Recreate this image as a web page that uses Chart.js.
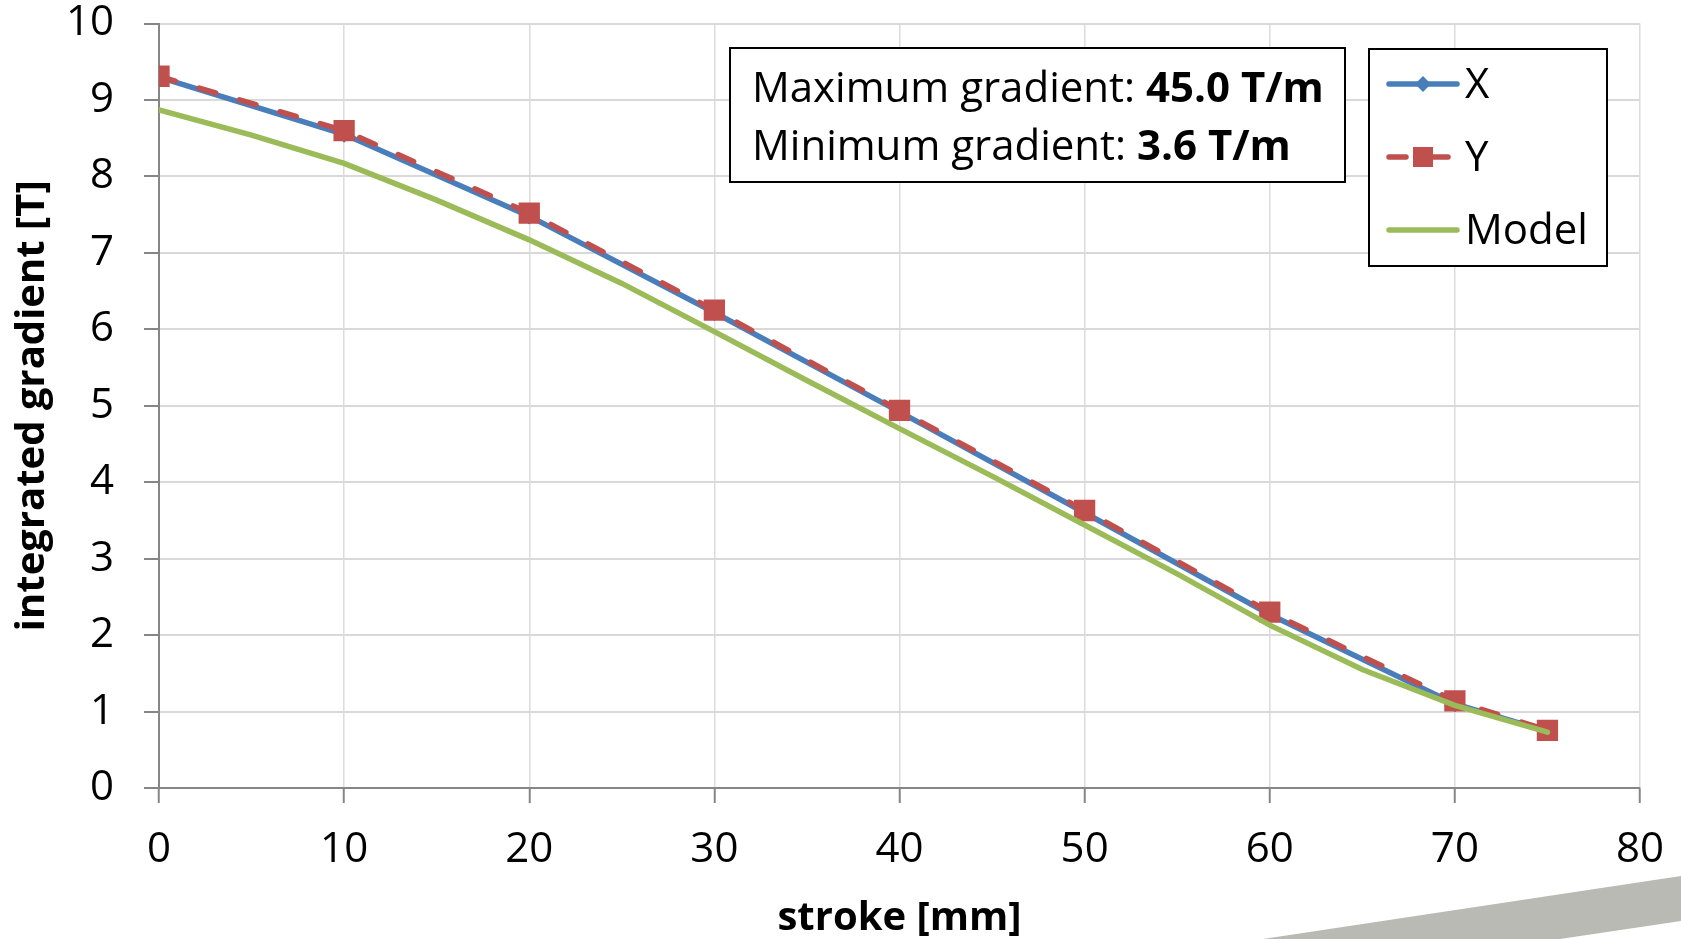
<!DOCTYPE html>
<html>
<head>
<meta charset="utf-8">
<script src="https://cdn.jsdelivr.net/npm/chart.js@4.4.1/dist/chart.umd.min.js"></script>
<style>
  html, body { margin: 0; padding: 0; background: #fff; }
  #wrap { position: relative; width: 1681px; height: 939px; }
</style>
</head>
<body>
<div id="wrap"><canvas id="chart" width="1681" height="939"></canvas></div>
<script>
// measured points, stroke in mm
const strokeMm = [0, 10, 20, 30, 40, 50, 60, 70, 75];
const gradX = [9.30, 8.55, 7.48, 6.22, 4.92, 3.60, 2.27, 1.10, 0.74];
const gradY = [9.31, 8.60, 7.52, 6.25, 4.94, 3.63, 2.30, 1.14, 0.755];

// model curve, every 5 mm
const modelStroke = [0, 5, 10, 15, 20, 25, 30, 35, 40, 45, 50, 55, 60, 65, 70, 75];
const gradModel = [8.87, 8.54, 8.17, 7.69, 7.17, 6.60, 5.97, 5.33, 4.70, 4.08, 3.44, 2.80, 2.13, 1.55, 1.08, 0.73];

const xTickValues = [0, 10, 20, 30, 40, 50, 60, 70, 80];
const yTickValues = [0, 1, 2, 3, 4, 5, 6, 7, 8, 9, 10];

const noteLines = [
  ["Maximum gradient: ", "45.0 T/m"],
  ["Minimum gradient: ", "3.6 T/m"]
];

const FONT = "'Open Sans', sans-serif";
Chart.defaults.font.family = FONT;
Chart.defaults.color = "#000";

const toPoints = (xs, ys) => xs.map((x, i) => ({ x: x, y: ys[i] }));

// text box, legend box and the grey swoosh of the slide
const extrasPlugin = {
  id: "extras",
  afterDraw(chart) {
    const ctx = chart.ctx;
    ctx.save();

    // note box
    ctx.fillStyle = "#fff";
    ctx.strokeStyle = "#000";
    ctx.lineWidth = 2;
    ctx.fillRect(730, 48, 615, 134);
    ctx.strokeRect(730, 48, 615, 134);
    ctx.fillStyle = "#000";
    ctx.textBaseline = "alphabetic";
    const baselines = [102, 160];
    noteLines.forEach((parts, i) => {
      ctx.font = "42px " + FONT;
      ctx.fillText(parts[0], 752, baselines[i]);
      const w = ctx.measureText(parts[0]).width;
      ctx.font = "bold 42px " + FONT;
      ctx.fillText(parts[1], 752 + w, baselines[i]);
    });

    // legend box
    ctx.fillStyle = "#fff";
    ctx.fillRect(1369, 49, 238, 217);
    ctx.strokeRect(1369, 49, 238, 217);
    const rowY = [84, 157, 230];
    chart.data.datasets.forEach((ds, i) => {
      const y = rowY[i];
      ctx.save();
      ctx.strokeStyle = ds.borderColor;
      ctx.lineWidth = ds.borderWidth;
      ctx.lineCap = "round";
      ctx.setLineDash(ds.borderDash || []);
      ctx.beginPath();
      ctx.moveTo(1389, y);
      ctx.lineTo(1457, y);
      ctx.stroke();
      ctx.restore();
      if (ds.pointRadius > 0) {
        ctx.fillStyle = ds.pointBackgroundColor;
        ctx.beginPath();
        if (ds.pointStyle === "rect") {
          ctx.rect(1413, y - 10, 20, 20);
        } else {
          ctx.moveTo(1423 - 8, y); ctx.lineTo(1423, y - 8);
          ctx.lineTo(1423 + 8, y); ctx.lineTo(1423, y + 8);
          ctx.closePath();
        }
        ctx.fill();
      }
      ctx.fillStyle = "#000";
      ctx.font = "42px " + FONT;
      ctx.fillText(ds.label, 1465, y + 14);
    });

    // grey swoosh at the bottom right
    ctx.fillStyle = "#b9bab4";
    ctx.beginPath();
    ctx.moveTo(1263, 939);
    ctx.lineTo(1681, 876);
    ctx.lineTo(1681, 921);
    ctx.lineTo(1560, 939);
    ctx.closePath();
    ctx.fill();

    ctx.restore();
  }
};

const datasets = [
  {
    label: "X",
    data: toPoints(strokeMm, gradX),
    borderColor: "#4a7ebb",
    borderWidth: 5.5,
    pointStyle: "rectRot",
    pointRadius: 8,
    pointBackgroundColor: "#4a7ebb",
    pointBorderColor: "#4a7ebb",
    pointBorderWidth: 1,
    order: 3
  },
  {
    label: "Y",
    data: toPoints(strokeMm, gradY),
    borderColor: "#c0504d",
    borderWidth: 5.5,
    borderDash: [17, 25],
    borderCapStyle: "round",
    pointStyle: "rect",
    pointRadius: 14,
    pointBackgroundColor: "#c0504d",
    pointBorderColor: "#c0504d",
    pointBorderWidth: 1.5,
    order: 2
  },
  {
    label: "Model",
    data: toPoints(modelStroke, gradModel),
    borderColor: "#9bbb59",
    borderWidth: 5.5,
    borderCapStyle: "round",
    pointRadius: 0,
    order: 1
  }
];

new Chart(document.getElementById("chart").getContext("2d"), {
  type: "line",
  data: { datasets: datasets },
  options: {
    responsive: false,
    animation: false,
    events: [],
    layout: { padding: { top: 23.5, right: 41, left: 0, bottom: 0 } },
    plugins: { legend: { display: false }, tooltip: { enabled: false } },
    scales: {
      x: {
        type: "linear",
        min: 0,
        max: 80,
        afterBuildTicks: (s) => { s.ticks = xTickValues.map((v) => ({ value: v })); },
        afterFit: (s) => { s.height = 151; s.paddingLeft = 0; s.paddingRight = 0; },
        grid: { color: "#dcdcdc", lineWidth: 1.5, tickLength: 15, tickColor: "#868686", tickWidth: 2 },
        border: { color: "#868686", width: 2 },
        ticks: { font: { size: 42, lineHeight: 1 }, padding: 26, maxRotation: 0 },
        title: {
          display: true,
          text: "stroke [mm]",
          font: { size: 40, weight: "bold", lineHeight: 1.0 },
          padding: { top: 0, bottom: 0 }
        }
      },
      y: {
        type: "linear",
        min: 0,
        max: 10,
        afterBuildTicks: (s) => { s.ticks = yTickValues.map((v) => ({ value: v })); },
        afterFit: (s) => { s.width = 159; s.paddingTop = 0; s.paddingBottom = 0; },
        grid: { color: "#d9d9d9", lineWidth: 2, tickLength: 15, tickColor: "#868686", tickWidth: 2 },
        border: { color: "#868686", width: 2 },
        ticks: { font: { size: 42, lineHeight: 1 }, padding: 30 },
        title: {
          display: true,
          text: "integrated gradient [T]",
          font: { size: 40, weight: "bold" },
          padding: { top: 9, bottom: 0 }
        }
      }
    }
  },
  plugins: [extrasPlugin]
});
</script>
</body>
</html>
